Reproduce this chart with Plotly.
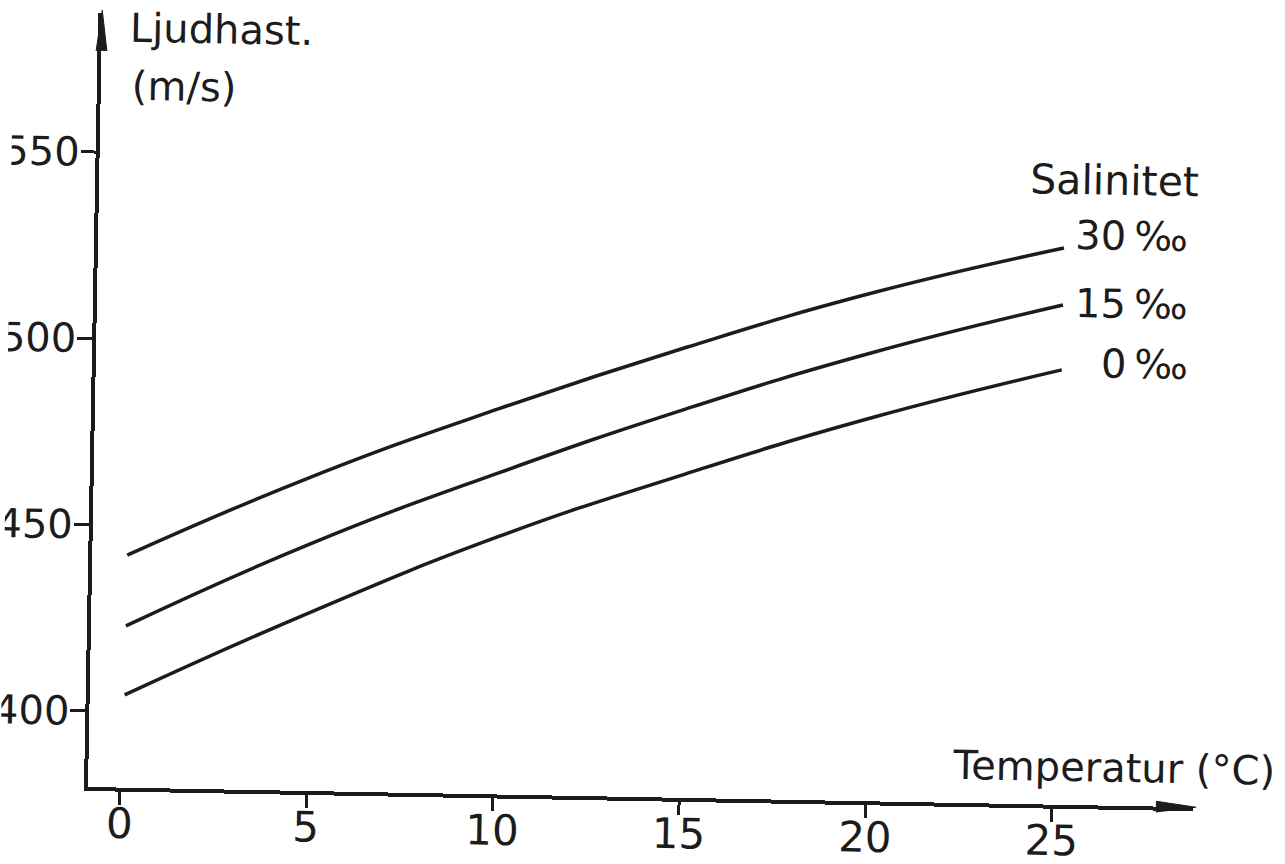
import plotly.graph_objects as go

# Speed of sound in water against temperature, for three salinities
temperature = [0.08, 5, 10, 15, 20, 25.05]
speed_s0 = [1404.5, 1427.5, 1448.7, 1466.5, 1482.6, 1496.3]
speed_s15 = [1423.0, 1446.0, 1465.9, 1484.0, 1500.1, 1513.7]
speed_s30 = [1442.0, 1464.0, 1483.2, 1500.6, 1516.2, 1529.0]

x_ticks = [0, 5, 10, 15, 20, 25]
y_ticks = [1400, 1450, 1500, 1550]
y_tick_text = ["1400", "1450", "1500", "1550"]

series_labels = ["0\u2009‰", "15\u2009‰", "30\u2009‰"]

INK = "#1c1c1c"
FONT = "DejaVu Sans"

fig = go.Figure()
for ys in (speed_s0, speed_s15, speed_s30):
    fig.add_trace(go.Scatter(
        x=temperature, y=ys, mode="lines",
        line=dict(color=INK, width=3.5, shape="spline", smoothing=1.3),
        hoverinfo="skip", showlegend=False,
    ))

fig.update_layout(
    width=1285, height=864,
    margin=dict(l=88, r=92, t=13, b=77, autoexpand=False),
    paper_bgcolor="white", plot_bgcolor="white",
    font=dict(family=FONT, color=INK, size=40),
    showlegend=False,
)

fig.update_xaxes(
    range=[-0.858, 28.78], showgrid=False, zeroline=False,
    showline=True, linecolor=INK, linewidth=4,
    ticks="outside", ticklen=13, tickwidth=3, tickcolor=INK,
    tickvals=x_ticks, ticktext=[str(v) for v in x_ticks],
    tickfont=dict(family=FONT, size=42, color=INK),
    ticklabelstandoff=-17,
    automargin=False,
)
fig.update_yaxes(
    range=[1379.6, 1587.3], showgrid=False, zeroline=False,
    showline=True, linecolor=INK, linewidth=4,
    ticks="outside", ticklen=15, tickwidth=3, tickcolor=INK,
    tickvals=y_ticks, ticktext=y_tick_text,
    tickfont=dict(family=FONT, size=40, color=INK),
    ticklabelstandoff=-7,
    automargin=False,
)

# Arrowheads at the ends of both axes
fig.add_shape(type="path", xref="paper", yref="paper",
              path="M 0 1.004 L -0.0048 0.952 L 0.0048 0.952 Z",
              fillcolor=INK, line=dict(color=INK, width=1), layer="above")
fig.add_shape(type="path", xref="paper", yref="paper",
              path="M 1.003 0 L 0.967 -0.0068 L 0.967 0.0068 Z",
              fillcolor=INK, line=dict(color=INK, width=1), layer="above")

def label(text, x, y, xanchor="left", size=40):
    fig.add_annotation(text=text, x=x, y=y, xref="paper", yref="paper",
                       xanchor=xanchor, yanchor="middle", showarrow=False,
                       font=dict(family=FONT, size=size, color=INK))

label("Ljudhast.", 0.0235, 0.982)
label("(m/s)", 0.0262, 0.9064)
label("Salinitet", 0.8407, 0.8075, size=41)
label(series_labels[2], 0.9882, 0.7364, xanchor="right")
label(series_labels[1], 0.9891, 0.6486, xanchor="right")
label(series_labels[0], 0.990, 0.5711, xanchor="right")
label("Temperatur (°C)", 0.7801, 0.0485)

tilt = """
document.body.style.margin = '0';
var gd = document.getElementById('{plot_id}');
gd.style.transformOrigin = '88px 787px';
gd.style.transform = 'rotate(1.05deg)';
"""

fig.write_html("out.html", post_script=tilt)
